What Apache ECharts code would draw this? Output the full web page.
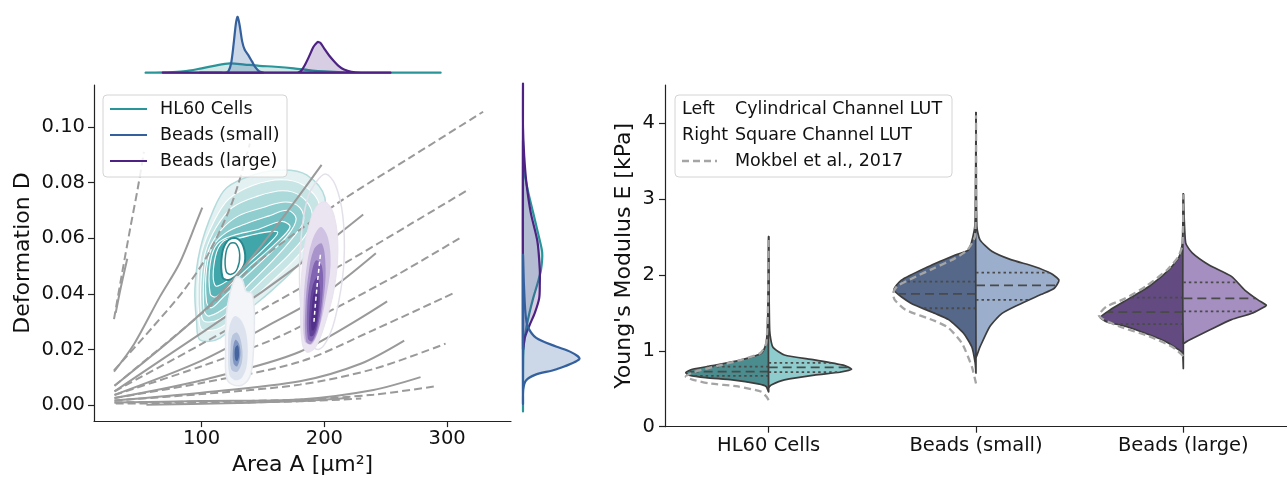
<!DOCTYPE html>
<html><head><meta charset="utf-8">
<script src="https://cdn.jsdelivr.net/npm/echarts@6/dist/echarts.min.js"></script>
<style>html,body{margin:0;padding:0;background:#fff}#c{width:1287px;height:481px}</style>
</head><body><div id="c"></div>
<script>
// ================= DATA =================
// Left panel: isoelastic reference lines [Area µm², Deformation]
const isoSolid1 = [[30,0.0332],[34,0.042],[39.4,0.0526]];
const isoDashed1 = [[28.6,0.0309],[35,0.047],[42,0.064],[48,0.078],[53,0.091]];
const isoSolid2 = [[28.6,0.0121],[45,0.022],[66,0.039],[82,0.051],[96,0.066],[100.5,0.071]];
const isoDashed2 = [[28.6,0.0125],[60,0.028],[85,0.041],[105,0.054],[125,0.073],[139.3,0.094]];
const isoSolid3 = [[29,0.007],[102,0.034],[148,0.057],[197.7,0.0863]];
const isoDashed3 = [[29,0.007],[100,0.033],[150,0.053],[212.6,0.0731],[270,0.089],[329.3,0.1054]];
const isoSolid4 = [[29,0.005],[100,0.026],[150,0.041],[190,0.054],[231.6,0.0685]];
const isoDashed4 = [[29,0.005],[100,0.022],[160,0.037],[218,0.0514],[270,0.065],[317.9,0.0776]];
const isoSolid5 = [[29,0.0037],[100,0.016],[160,0.030],[200,0.040],[241.9,0.0546]];
const isoDashed5 = [[29,0.0037],[100,0.014],[160,0.024],[207,0.0344],[260,0.047],[312.2,0.0605]];
const isoSolid6 = [[29,0.0026],[100,0.009],[180,0.0192],[251.1,0.0373]];
const isoDashed6 = [[29,0.0026],[100,0.008],[180,0.0156],[240,0.027],[305.5,0.0403]];
const isoSolid7 = [[29,0.0017],[100,0.0045],[180,0.0086],[230,0.015],[265,0.0232]];
const isoDashed7 = [[29,0.0017],[100,0.004],[180,0.0074],[240,0.013],[298.7,0.0221]];
const isoSolid8 = [[29,0.001],[100,0.0015],[180,0.0021],[240,0.0055],[278.3,0.0101]];
const isoDashed8 = [[29,0.001],[100,0.0013],[180,0.002],[240,0.0038],[290.8,0.0068]];
const isoSolid9 = [[55,0.0002],[120,0.0007],[180,0.0015],[220,0.0027]];
const isoDashed9 = [[30,0.0006],[100,0.0008],[180,0.0014],[230,0.0024]];

// KDE contour levels (outer -> inner) [Area, Deformation]
const hl60Contours = [
 [[95.9,0.0299],[94.5,0.0417],[98.6,0.0558],[109.4,0.0699],[120.4,0.0781],[142,0.0827],[166.5,0.0845],[185.5,0.0827],[200.4,0.0745],[196.3,0.0616],[180,0.0511],[158.3,0.0417],[136.6,0.0335],[114.9,0.0241],[98.6,0.0235]],
 [[98,0.030],[97,0.043],[100,0.055],[110,0.066],[122,0.074],[142,0.079],[165,0.081],[183,0.079],[196,0.072],[192,0.062],[177,0.053],[156,0.044],[136,0.036],[116,0.028],[101,0.027]],
 [[100,0.032],[99.5,0.045],[103,0.055],[112,0.064],[125,0.071],[145,0.075],[166,0.077],[181,0.075],[190,0.069],[186,0.062],[171,0.054],[152,0.046],[133,0.038],[115,0.031],[103,0.030]],
 [[102,0.034],[102,0.047],[106,0.056],[116,0.063],[130,0.068],[150,0.071],[168,0.073],[180,0.071],[183,0.066],[174,0.060],[158,0.052],[140,0.044],[122,0.036],[106,0.032]],
 [[104,0.037],[104,0.049],[109,0.057],[120,0.062],[135,0.065],[155,0.068],[170,0.070],[177,0.067],[170,0.061],[152,0.053],[135,0.046],[118,0.039],[108,0.035]],
 [[107,0.040],[107,0.051],[113,0.058],[126,0.061],[145,0.063],[165,0.066],[172,0.064],[160,0.058],[142,0.051],[125,0.044],[112,0.039]],
 [[111,0.043],[111,0.053],[118,0.059],[130,0.060],[150,0.062],[162,0.062],[150,0.056],[135,0.050],[122,0.045]],
 [[117,0.046],[116.5,0.054],[121,0.059],[128,0.060],[134,0.057],[135,0.051],[129,0.047],[122,0.045]],
 [[120,0.048],[119.5,0.054],[123,0.058],[128,0.058],[131,0.054],[129,0.049],[124,0.047]]
];
const smallContours = [
 [[121,0.009],[119.5,0.020],[120,0.032],[123,0.040],[128,0.046],[133,0.045],[136,0.041],[141,0.040],[143,0.032],[142,0.018],[139,0.010],[131,0.007]],
 [[122.5,0.011],[121.5,0.020],[122.5,0.028],[127,0.032],[133,0.030],[137,0.024],[137,0.015],[133,0.010],[127,0.009]],
 [[124,0.013],[123.5,0.020],[125,0.025],[129,0.026],[132.5,0.022],[133,0.016],[129,0.012]],
 [[126,0.015],[125.5,0.020],[127.5,0.0235],[130.5,0.022],[131.5,0.018],[129,0.014]],
 [[127.3,0.0165],[127.2,0.0205],[129.5,0.0215],[130.5,0.018],[129,0.0158]]
];
const largeContours = [
 [[180,0.040],[181,0.060],[186,0.074],[193,0.080],[201,0.083],[209,0.079],[215,0.068],[216,0.052],[212,0.038],[205,0.026],[195,0.020],[185,0.025]],
 [[182,0.022],[180.5,0.035],[182,0.050],[186,0.062],[193,0.071],[201,0.073],[208,0.068],[211,0.056],[208,0.042],[201,0.030],[193,0.021],[186,0.019]],
 [[184,0.023],[183,0.035],[185,0.048],[190,0.059],[197,0.064],[203,0.060],[205,0.050],[201,0.038],[196,0.028],[190,0.022]],
 [[185,0.023],[184.5,0.035],[187,0.047],[191.5,0.056],[198,0.058],[201,0.049],[199,0.037],[195,0.027],[189,0.022]],
 [[186.5,0.024],[186,0.035],[188.5,0.045],[193,0.052],[198,0.050],[198.5,0.040],[195,0.029],[190,0.023]],
 [[188,0.025],[188,0.035],[190.5,0.043],[194.5,0.046],[196.5,0.040],[194.5,0.030],[191,0.025]],
 [[189.5,0.027],[189.8,0.035],[192,0.041],[195,0.040],[194,0.031],[191.5,0.027]]
];
const largeStreak = [[191.5,0.030],[193,0.038],[195,0.047],[197,0.055]];

// Marginal densities
const margTopX_HL60 = [55,70,85,100,110,123,135,147,160,175,190,200,215,230,260,293.5];
const margTopD_HL60 = [0,0.005,0.02,0.07,0.11,0.15,0.13,0.11,0.095,0.07,0.035,0.02,0.007,0.002,0,0];
const margTopX_small = [99,115,120,122,124,126,128,129.3,131,133,135,138,141,144,147,150];
const margTopD_small = [0,0,0.003,0.03,0.15,0.45,0.8,0.89,0.75,0.5,0.37,0.28,0.18,0.08,0.02,0];
const margTopX_large = [69,170,178,181,184,188,191,194,195,197,200,204,208,212,216,222,230,253];
const margTopD_large = [0,0,0.003,0.03,0.12,0.28,0.41,0.48,0.49,0.47,0.38,0.27,0.18,0.1,0.05,0.015,0.003,0];
const margRightY_HL60 = [0.0005,0.01,0.02,0.025,0.03,0.035,0.04,0.045,0.05,0.056,0.062,0.07,0.078,0.085,0.095];
const margRightD_HL60 = [0,0,0.005,0.02,0.06,0.11,0.17,0.24,0.3,0.32,0.26,0.17,0.08,0.02,0];
const margRightY_small = [0.003,0.008,0.011,0.013,0.015,0.0186,0.021,0.023,0.026,0.03,0.035,0.045,0.055];
const margRightD_small = [0,0.005,0.05,0.2,0.56,0.94,0.8,0.55,0.22,0.08,0.04,0.015,0];
const margRightY_large = [0.022,0.026,0.03,0.035,0.04,0.045,0.05,0.06,0.07,0.08,0.09,0.1,0.115];
const margRightD_large = [0,0.03,0.1,0.2,0.27,0.28,0.28,0.24,0.13,0.06,0.02,0,0];

// Right panel: violin half profiles [E kPa, relative half-width]
const categories = ['HL60 Cells','Beads (small)','Beads (large)'];
const hl60Left = [[0.46,0],[0.53,0.03],[0.563,0.127],[0.616,0.44],[0.646,0.76],[0.68,0.96],[0.71,1.0],[0.757,0.92],[0.81,0.64],[0.88,0.33],[0.967,0.087],[1.1,0.03],[1.5,0.01],[2.5,0]];
const hl60Right = [[0.52,0],[0.55,0.03],[0.616,0.19],[0.68,0.55],[0.717,0.86],[0.757,1.0],[0.81,0.9],[0.88,0.55],[0.945,0.19],[1.05,0.05],[1.27,0.012],[2.5,0]];
const smallLeft = [[0.71,0],[0.84,0.01],[1.05,0.05],[1.23,0.15],[1.41,0.33],[1.49,0.49],[1.63,0.79],[1.80,0.99],[1.93,0.9],[2.09,0.61],[2.26,0.25],[2.33,0.09],[2.59,0.02],[2.8,0.008],[4.13,0]];
const smallRight = [[0.92,0],[1.05,0.048],[1.32,0.167],[1.49,0.31],[1.60,0.50],[1.74,0.78],[1.82,0.94],[1.93,1.0],[2.02,0.9],[2.11,0.70],[2.20,0.42],[2.31,0.19],[2.46,0.048],[2.64,0.01],[4.13,0]];
const largeLeft = [[0.77,0],[0.97,0.01],[1.01,0.05],[1.12,0.21],[1.21,0.41],[1.32,0.69],[1.38,0.92],[1.44,1.0],[1.54,0.88],[1.69,0.65],[1.85,0.41],[2.07,0.17],[2.24,0.05],[2.42,0.012],[3.06,0]];
const largeRight = [[1.10,0],[1.14,0.067],[1.27,0.31],[1.41,0.58],[1.49,0.82],[1.58,0.98],[1.60,1.0],[1.67,0.9],[1.80,0.74],[1.98,0.58],[2.13,0.31],[2.29,0.107],[2.42,0.028],[3.06,0]];
const mokHL60 = [[0.35,0],[0.40,0.03],[0.46,0.087],[0.53,0.37],[0.57,0.72],[0.62,0.92],[0.66,1.0],[0.72,0.9],[0.80,0.62],[0.88,0.33],[0.97,0.1],[1.1,0.03],[1.5,0.01],[2.5,0]];
const mokSmall = [[0.57,0],[0.79,0.05],[1.10,0.17],[1.30,0.33],[1.39,0.49],[1.54,0.85],[1.67,0.98],[1.76,1.0],[1.85,0.95],[1.98,0.72],[2.09,0.5],[2.22,0.25],[2.33,0.1],[2.52,0.01],[4.1,0]];
const mokLarge = [[0.93,0],[1.05,0.13],[1.19,0.41],[1.32,0.77],[1.41,0.96],[1.47,1.02],[1.58,0.93],[1.69,0.70],[1.85,0.45],[2.07,0.19],[2.24,0.06],[2.4,0.01],[3.06,0]];
const quartHL60L = [0.67,0.725,0.79], quartHL60R = [0.72,0.78,0.84];
const quartSmallL = [1.56,1.75,1.91], quartSmallR = [1.67,1.86,2.03];
const quartLargeL = [1.35,1.51,1.70], quartLargeR = [1.52,1.69,1.90];
const leftTicksX = [100,200,300];
const leftTicksY = [0,0.02,0.04,0.06,0.08,0.10];
const rightTicksY = [0,1,2,3,4];

// ================= STYLE / BUILD =================
const FONT = 'DejaVu Sans';
const TEAL = '#2a9598', BLUE = '#35609e', PURPLE = '#4d2283';
const GRAY = '#9a9a9a';
const LFONT = '17.5px "DejaVu Sans"';

const chart = echarts.init(document.getElementById('c'), null, {renderer:'canvas'});

function isoSeries(data, dashed){
  return {type:'line', xAxisIndex:0, yAxisIndex:0, data, smooth:0.3, symbol:'none', silent:true, z:3,
    lineStyle:{color:GRAY, width:2, type: dashed ? [8,4] : 'solid'}};
}
function contourSeries(levels, fills, strokes, widths, z){
  return {type:'custom', xAxisIndex:0, yAxisIndex:0, silent:true, z,
    data: levels.map((_,i)=>[levels[i][0][0], levels[i][0][1], i]),
    renderItem:(params, api)=>{
      const i = params.dataIndex;
      const pts = levels[i].map(p=>api.coord(p));
      return {type:'polygon', shape:{points:pts, smooth:0.35},
        style:{fill:fills[i], stroke:strokes[i], lineWidth:widths[i]}};
    }};
}
function margSeries(xs, ds, color, fill, horizontal){
  const pts = xs.map((x,i)=> horizontal ? [ds[i], x] : [x, ds[i]]);
  return {type:'custom', xAxisIndex: horizontal?2:1, yAxisIndex: horizontal?2:1, silent:true, z:3,
    data:[pts[0]],
    renderItem:(params, api)=>{
      const p = pts.map(q=>api.coord(q));
      return {type:'polygon', shape:{points:p, smooth:0.3},
        style:{fill, stroke:color, lineWidth:2.2}};
    }};
}

const violins = [
  {cat:0, side:-1, prof:hl60Left, fill:'#4b8d8f', q:quartHL60L},
  {cat:0, side: 1, prof:hl60Right, fill:'#8ecccd', q:quartHL60R},
  {cat:1, side:-1, prof:smallLeft, fill:'#55688a', q:quartSmallL},
  {cat:1, side: 1, prof:smallRight, fill:'#9bafcd', q:quartSmallR},
  {cat:2, side:-1, prof:largeLeft, fill:'#634b82', q:quartLargeL},
  {cat:2, side: 1, prof:largeRight, fill:'#a58fc0', q:quartLargeR}
];
const mokbel = [{cat:0, prof:mokHL60},{cat:1, prof:mokSmall},{cat:2, prof:mokLarge}];

function widthAt(prof, E){
  for (let i=0;i<prof.length-1;i++){
    const a=prof[i], b=prof[i+1];
    if (E>=a[0] && E<=b[0]) return a[1] + (b[1]-a[1])*(E-a[0])/(b[0]-a[0]);
  }
  return 0;
}

const violinSeries = {type:'custom', xAxisIndex:3, yAxisIndex:3, silent:true, z:3,
  data: violins.map(v=>[v.cat, v.prof[0][0]]),
  renderItem:(params, api)=>{
    const v = violins[params.dataIndex];
    const cx = api.coord([v.cat, 0])[0];
    const half = api.size([1,0])[0]*0.4;
    const pts = v.prof.map(p=>[cx + v.side*p[1]*half, api.coord([v.cat, p[0]])[1]]);
    const children = [{type:'polygon', shape:{points:pts, smooth:0.2},
      style:{fill:v.fill, stroke:'#3d3d3d', lineWidth:1.7}}];
    v.q.forEach((E, k)=>{
      const w = widthAt(v.prof, E)*half;
      const y = api.coord([v.cat, E])[1];
      children.push({type:'line', shape:{x1:cx, y1:y, x2:cx + v.side*w, y2:y},
        style:{stroke:'#4a4a4a', lineWidth:1.8, lineDash: k===1 ? [9,5] : [2.5,3]}});
    });
    return {type:'group', children};
  }};
const mokbelSeries = {type:'custom', xAxisIndex:3, yAxisIndex:3, silent:true, z:4,
  data: mokbel.map(m=>[m.cat, m.prof[0][0]]),
  renderItem:(params, api)=>{
    const m = mokbel[params.dataIndex];
    const cx = api.coord([m.cat, 0])[0];
    const half = api.size([1,0])[0]*0.4;
    const pts = m.prof.map(p=>[cx - p[1]*half, api.coord([m.cat, p[0]])[1]]);
    return {type:'polyline', shape:{points:pts, smooth:0.2},
      style:{stroke:'#a5a5a5', lineWidth:2.3, lineDash:[7,4], fill:null}};
  }};

const axisLineStyle = {color:'#222', width:1.2};
const NONE = 'rgba(0,0,0,0)';
const option = {
  animation:false,
  backgroundColor:'#fff',
  grid:[
    {left:94, top:85, width:417, height:343},
    {left:94, top:10, width:417, height:62.7},
    {left:523, top:85, width:60, height:343},
    {left:665, top:85, right:-8, height:341.7}
  ],
  xAxis:[
    {type:'value', gridIndex:0, min:12.3, max:352,
      name:'Area A [µm²]', nameLocation:'middle', nameGap:30,
      nameTextStyle:{fontFamily:FONT, fontSize:22, color:'#111'},
      axisLine:{show:true, onZero:false, lineStyle:axisLineStyle},
      axisTick:{show:true, inside:false, length:6, customValues:leftTicksX, lineStyle:axisLineStyle},
      axisLabel:{customValues:leftTicksX, fontFamily:FONT, fontSize:19.5, color:'#111', margin:8},
      splitLine:{show:false}},
    {type:'value', gridIndex:1, min:12.3, max:352, show:false, splitLine:{show:false}},
    {type:'value', gridIndex:2, min:0, max:1, show:false, splitLine:{show:false}},
    {type:'category', gridIndex:3, data:categories, boundaryGap:true,
      axisLine:{show:true, onZero:false, lineStyle:axisLineStyle},
      axisTick:{show:true, alignWithLabel:true, length:6, lineStyle:axisLineStyle},
      axisLabel:{fontFamily:FONT, fontSize:19.5, color:'#111', margin:9},
      splitLine:{show:false}}
  ],
  yAxis:[
    {type:'value', gridIndex:0, min:-0.0057, max:0.115,
      name:'Deformation D', nameLocation:'middle', nameGap:60,
      nameTextStyle:{fontFamily:FONT, fontSize:22, color:'#111'},
      axisLine:{show:true, onZero:false, lineStyle:axisLineStyle},
      axisTick:{show:true, length:6, customValues:leftTicksY, lineStyle:axisLineStyle},
      axisLabel:{customValues:leftTicksY, formatter:v=>Number(v).toFixed(2), fontFamily:FONT, fontSize:19.5, color:'#111', margin:9},
      splitLine:{show:false}},
    {type:'value', gridIndex:1, min:0, max:1, show:false, splitLine:{show:false}},
    {type:'value', gridIndex:2, min:-0.0057, max:0.115, show:false, splitLine:{show:false}},
    {type:'value', gridIndex:3, min:0, max:4.5,
      name:"Young's Modulus E [kPa]", nameLocation:'middle', nameGap:30,
      nameTextStyle:{fontFamily:FONT, fontSize:22, color:'#111'},
      axisLine:{show:true, onZero:false, lineStyle:axisLineStyle},
      axisTick:{show:true, length:6, customValues:rightTicksY, lineStyle:axisLineStyle},
      axisLabel:{customValues:rightTicksY, fontFamily:FONT, fontSize:19.5, color:'#111', margin:10},
      splitLine:{show:false}}
  ],
  series:[
    contourSeries(hl60Contours,
      ['#e3f1f2','#c8e5e6','#acd9da','#90cdcf','#74c0c2','#58b3b6','#40a6a9','#ffffff','#ffffff'],
      ['#b4dbdc','#ffffff','#ffffff','#ffffff','#ffffff','#ffffff','#ffffff','#27888d','#27888d'],
      [1.5,1.1,1.1,1.1,1.1,1.1,1.1,2,1.5], 1),
    isoSeries(isoSolid1,false), isoSeries(isoDashed1,true),
    isoSeries(isoSolid2,false), isoSeries(isoDashed2,true),
    isoSeries(isoSolid3,false), isoSeries(isoDashed3,true),
    isoSeries(isoSolid4,false), isoSeries(isoDashed4,true),
    isoSeries(isoSolid5,false), isoSeries(isoDashed5,true),
    isoSeries(isoSolid6,false), isoSeries(isoDashed6,true),
    isoSeries(isoSolid7,false), isoSeries(isoDashed7,true),
    isoSeries(isoSolid8,false), isoSeries(isoDashed8,true),
    isoSeries(isoSolid9,false), isoSeries(isoDashed9,true),
    contourSeries(smallContours,
      ['#f3f5f9','#dde3ee','#b8c5dc','#7f96c1','#46659f'],
      ['#e6e9ef',NONE,NONE,NONE,NONE],
      [1.5,0,0,0,0], 5),
    contourSeries(largeContours,
      [NONE,'#ebe5f1','#cfc2e2','#a993cb','#8164b2','#634399','#52308a'],
      ['#e4e0ea','#e8e3ee',NONE,NONE,NONE,NONE,NONE],
      [1.5,1,0,0,0,0,0], 5),
    {type:'line', xAxisIndex:0, yAxisIndex:0, data:largeStreak, smooth:true, symbol:'none', silent:true, z:6,
      lineStyle:{color:'#ffffff', width:1.5, type:[4,3]}},
    margSeries(margTopX_HL60, margTopD_HL60, TEAL, 'rgba(42,149,152,0.22)', false),
    margSeries(margTopX_small, margTopD_small, BLUE, 'rgba(53,96,158,0.25)', false),
    margSeries(margTopX_large, margTopD_large, PURPLE, 'rgba(77,34,131,0.22)', false),
    margSeries(margRightY_HL60, margRightD_HL60, TEAL, 'rgba(42,149,152,0.22)', true),
    margSeries(margRightY_large, margRightD_large, PURPLE, 'rgba(77,34,131,0.22)', true),
    margSeries(margRightY_small, margRightD_small, BLUE, 'rgba(53,96,158,0.25)', true),
    violinSeries,
    mokbelSeries
  ],
  graphic:[
    {type:'rect', z:100, shape:{x:103, y:95, width:184, height:82, r:4},
      style:{fill:'rgba(255,255,255,0.85)', stroke:'#d4d4d4', lineWidth:1}},
    {type:'line', z:101, shape:{x1:110,y1:109,x2:147,y2:109}, style:{stroke:TEAL, lineWidth:2.2}},
    {type:'line', z:101, shape:{x1:110,y1:135,x2:147,y2:135}, style:{stroke:BLUE, lineWidth:2.2}},
    {type:'line', z:101, shape:{x1:110,y1:161,x2:147,y2:161}, style:{stroke:PURPLE, lineWidth:2.2}},
    {type:'text', z:101, x:160, y:109, style:{text:'HL60 Cells', font:LFONT, fill:'#111', verticalAlign:'middle'}},
    {type:'text', z:101, x:160, y:135, style:{text:'Beads (small)', font:LFONT, fill:'#111', verticalAlign:'middle'}},
    {type:'text', z:101, x:160, y:161, style:{text:'Beads (large)', font:LFONT, fill:'#111', verticalAlign:'middle'}},
    {type:'rect', z:100, shape:{x:675, y:95, width:277, height:82, r:4},
      style:{fill:'rgba(255,255,255,0.85)', stroke:'#d4d4d4', lineWidth:1}},
    {type:'text', z:101, x:682, y:109, style:{text:'Left', font:LFONT, fill:'#111', verticalAlign:'middle'}},
    {type:'text', z:101, x:735, y:109, style:{text:'Cylindrical Channel LUT', font:LFONT, fill:'#111', verticalAlign:'middle'}},
    {type:'text', z:101, x:682, y:135, style:{text:'Right', font:LFONT, fill:'#111', verticalAlign:'middle'}},
    {type:'text', z:101, x:735, y:135, style:{text:'Square Channel LUT', font:LFONT, fill:'#111', verticalAlign:'middle'}},
    {type:'line', z:101, shape:{x1:682,y1:161,x2:717,y2:161}, style:{stroke:'#a5a5a5', lineWidth:2.3, lineDash:[7,4]}},
    {type:'text', z:101, x:735, y:161, style:{text:'Mokbel et al., 2017', font:LFONT, fill:'#111', verticalAlign:'middle'}}
  ]
};
chart.setOption(option);
</script></body></html>
